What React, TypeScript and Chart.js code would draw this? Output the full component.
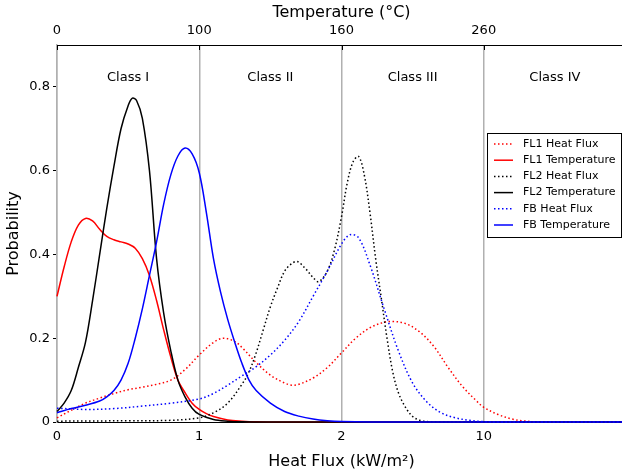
import React, { useEffect, useRef } from "react";
import { Chart, registerables } from "chart.js";

Chart.register(...registerables);

// ---- Data ----
const bottomTickLabels = ["0", "1", "2", "10"];
const topTickLabels = ["0", "100", "160", "260"];
const classLabels = ["Class I", "Class II", "Class III", "Class IV"];
const classCenters = [0.5, 1.5, 2.5, 3.5];

const fl1HfX = [0, 0.1, 0.2, 0.3, 0.4, 0.5, 0.6, 0.7, 0.8, 0.9, 1.0, 1.1, 1.17, 1.25, 1.3, 1.4, 1.5, 1.6, 1.65, 1.7, 1.8, 1.9, 2.0, 2.1, 2.2, 2.3, 2.36, 2.45, 2.55, 2.65, 2.75, 2.85, 2.95, 3.0, 3.1, 3.2, 3.3, 3.4, 4.0];
const fl1HfY = [0.01, 0.028, 0.045, 0.057, 0.068, 0.077, 0.083, 0.09, 0.1, 0.125, 0.16, 0.19, 0.2, 0.192, 0.178, 0.142, 0.112, 0.093, 0.088, 0.09, 0.105, 0.13, 0.165, 0.2, 0.225, 0.238, 0.24, 0.235, 0.215, 0.18, 0.13, 0.085, 0.05, 0.035, 0.018, 0.007, 0.002, 0, 0];

const fl1TX = [0, 0.05, 0.1, 0.15, 0.2, 0.25, 0.3, 0.35, 0.4, 0.45, 0.5, 0.55, 0.6, 0.65, 0.7, 0.75, 0.8, 0.85, 0.9, 0.95, 1.0, 1.05, 1.1, 1.2, 1.3, 1.4, 1.6, 4.0];
const fl1TY = [0.3, 0.37, 0.43, 0.47, 0.486, 0.48, 0.46, 0.443, 0.435, 0.43, 0.425, 0.415, 0.39, 0.35, 0.29, 0.22, 0.155, 0.1, 0.07, 0.045, 0.03, 0.02, 0.013, 0.005, 0.002, 0.0005, 0, 0];

const fl2HfX = [0, 0.5, 0.8, 1.0, 1.1, 1.2, 1.3, 1.35, 1.4, 1.45, 1.5, 1.55, 1.6, 1.65, 1.69, 1.75, 1.8, 1.84, 1.9, 1.95, 2.0, 2.04, 2.08, 2.12, 2.16, 2.2, 2.24, 2.28, 2.32, 2.36, 2.4, 2.45, 2.5, 2.55, 2.6, 2.7, 4.0];
const fl2HfY = [0.002, 0.003, 0.004, 0.01, 0.022, 0.045, 0.09, 0.12, 0.165, 0.22, 0.275, 0.32, 0.36, 0.378, 0.383, 0.365, 0.345, 0.335, 0.36, 0.41, 0.49, 0.57, 0.62, 0.634, 0.59, 0.5, 0.39, 0.295, 0.2, 0.12, 0.07, 0.035, 0.013, 0.004, 0.001, 0, 0];

const fl2TX = [0, 0.05, 0.1, 0.15, 0.2, 0.25, 0.3, 0.35, 0.4, 0.45, 0.5, 0.53, 0.56, 0.6, 0.65, 0.7, 0.75, 0.8, 0.85, 0.9, 0.95, 1.0, 1.1, 1.2, 1.3, 1.5, 4.0];
const fl2TY = [0.025, 0.045, 0.075, 0.13, 0.19, 0.29, 0.4, 0.51, 0.61, 0.7, 0.755, 0.773, 0.767, 0.725, 0.6, 0.39, 0.26, 0.17, 0.1, 0.06, 0.033, 0.018, 0.006, 0.002, 0.0005, 0, 0];

const fbHfX = [0, 0.2, 0.4, 0.6, 0.8, 1.0, 1.1, 1.2, 1.3, 1.4, 1.5, 1.6, 1.7, 1.8, 1.9, 2.0, 2.06, 2.12, 2.2, 2.3, 2.4, 2.5, 2.6, 2.7, 2.8, 2.9, 3.0, 3.1, 4.0];
const fbHfY = [0.033, 0.03, 0.032, 0.038, 0.045, 0.055, 0.068, 0.088, 0.11, 0.132, 0.16, 0.195, 0.24, 0.3, 0.36, 0.425, 0.447, 0.44, 0.375, 0.27, 0.17, 0.093, 0.048, 0.022, 0.01, 0.004, 0.001, 0, 0];

const fbTX = [0, 0.1, 0.2, 0.3, 0.35, 0.4, 0.45, 0.5, 0.55, 0.6, 0.65, 0.7, 0.75, 0.8, 0.85, 0.9, 0.95, 1.0, 1.05, 1.1, 1.15, 1.2, 1.25, 1.3, 1.35, 1.4, 1.5, 1.6, 1.7, 1.8, 1.9, 2.0, 2.2, 4.0];
const fbTY = [0.022, 0.032, 0.04, 0.05, 0.06, 0.075, 0.1, 0.14, 0.2, 0.27, 0.35, 0.43, 0.52, 0.59, 0.635, 0.654, 0.64, 0.595, 0.5, 0.39, 0.31, 0.245, 0.19, 0.14, 0.1, 0.075, 0.045, 0.025, 0.014, 0.007, 0.003, 0.001, 0, 0];

const seriesNames = ["FL1 Heat Flux", "FL1 Temperature", "FL2 Heat Flux", "FL2 Temperature", "FB Heat Flux", "FB Temperature"];
const seriesColors = ["#ff0000", "#ff0000", "#000000", "#000000", "#0000ff", "#0000ff"];
const seriesDotted = [true, false, true, false, true, false];
const seriesX = [fl1HfX, fl1TX, fl2HfX, fl2TX, fbHfX, fbTX];
const seriesY = [fl1HfY, fl1TY, fl2HfY, fl2TY, fbHfY, fbTY];

const FONT = "DejaVu Sans";
const DOT = [1.5, 2.5];

const overlayPlugin = {
  id: "overlay",
  afterDraw(chart: any) {
    const { ctx, chartArea, scales } = chart;
    const xs = scales.x;
    ctx.save();
    // inward ticks on top axis
    ctx.strokeStyle = "#000";
    ctx.lineWidth = 1;
    for (let i = 0; i < topTickLabels.length; i++) {
      const px = Math.round(xs.getPixelForValue(i)) + 0.5;
      ctx.beginPath();
      ctx.moveTo(px, chartArea.top);
      ctx.lineTo(px, chartArea.top + 5);
      ctx.stroke();
    }
    // class labels
    ctx.fillStyle = "#000";
    ctx.font = `13px ${FONT}`;
    ctx.textAlign = "center";
    ctx.textBaseline = "middle";
    classLabels.forEach((t, i) => {
      ctx.fillText(t, xs.getPixelForValue(classCenters[i]), chartArea.top + 33);
    });
    // legend
    const lx = 487, ly = 133, lw = 134, lh = 104;
    ctx.fillStyle = "#fff";
    ctx.fillRect(lx, ly, lw, lh);
    ctx.strokeStyle = "#000";
    ctx.lineWidth = 1;
    ctx.strokeRect(lx + 0.5, ly + 0.5, lw, lh);
    ctx.font = `11px ${FONT}`;
    ctx.textAlign = "left";
    seriesNames.forEach((name, i) => {
      const y = 144 + i * 16.2;
      ctx.strokeStyle = seriesColors[i];
      ctx.lineWidth = 1.5;
      ctx.setLineDash(seriesDotted[i] ? DOT : []);
      ctx.beginPath();
      ctx.moveTo(494, y);
      ctx.lineTo(513, y);
      ctx.stroke();
      ctx.setLineDash([]);
      ctx.fillStyle = "#000";
      ctx.fillText(name, 523, y);
    });
    ctx.restore();
  },
};

export default function App() {
  const ref = useRef<HTMLCanvasElement>(null);
  useEffect(() => {
    if (!ref.current) return;
    Chart.defaults.font.family = FONT;
    Chart.defaults.color = "#000";
    const datasets = seriesNames.map((name, i) => ({
      label: name,
      data: seriesX[i].map((x, j) => ({ x, y: seriesY[i][j] })),
      borderColor: seriesColors[i],
      backgroundColor: seriesColors[i],
      borderWidth: 1.5,
      borderDash: seriesDotted[i] ? DOT : [],
      borderCapStyle: "butt" as const,
      pointRadius: 0,
      tension: 0.35,
      fill: false,
      order: 5 - i,
      clip: 3,
    }));
    const chart = new Chart(ref.current, {
      type: "line",
      data: { datasets },
      options: {
        responsive: false,
        animation: false,
        events: [],
        layout: { padding: { left: 0, right: 4, top: 0, bottom: 0 } },
        plugins: { legend: { display: false }, tooltip: { enabled: false } },
        scales: {
          x: {
            type: "linear",
            position: "bottom",
            min: 0,
            max: 4,
            afterBuildTicks: (s: any) => {
              s.ticks = s.ticks.filter((t: any) => t.value <= 3 + 1e-9);
            },
            afterFit: (s: any) => {
              s.height = 49;
            },
            ticks: {
              stepSize: 1,
              padding: 7,
              font: { size: 13 },
              color: "#000",
              callback: (v: any) => bottomTickLabels[Math.round(v)] ?? "",
              maxRotation: 0,
            },
            grid: {
              drawTicks: false,
              color: "#b0b0b0",
              lineWidth: 1.5,
            },
            border: { display: true, color: "#000", width: 1 },
            title: {
              display: true,
              text: "Heat Flux (kW/m²)",
              font: { size: 16 },
              color: "#000",
              padding: { top: 0, bottom: 0 },
            },
          },
          x2: {
            type: "linear",
            position: "top",
            min: 0,
            max: 4,
            afterBuildTicks: (s: any) => {
              s.ticks = s.ticks.filter((t: any) => t.value <= 3 + 1e-9);
            },
            afterFit: (s: any) => {
              s.height = 45;
            },
            ticks: {
              stepSize: 1,
              padding: 7,
              font: { size: 13 },
              color: "#000",
              callback: (v: any) => topTickLabels[Math.round(v)] ?? "",
              maxRotation: 0,
            },
            grid: { display: false, drawTicks: false },
            border: { display: true, color: "#000", width: 1 },
            title: {
              display: true,
              text: "Temperature (°C)",
              font: { size: 16 },
              color: "#000",
              padding: { top: 3, bottom: 0 },
            },
          },
          y: {
            type: "linear",
            min: 0,
            max: 0.9,
            afterBuildTicks: (s: any) => {
              s.ticks = s.ticks.filter((t: any) => t.value <= 0.8 + 1e-9);
            },
            afterFit: (s: any) => {
              s.width = 57;
            },
            ticks: {
              stepSize: 0.2,
              padding: 3,
              font: { size: 13 },
              color: "#000",
              callback: (v: any) => (Math.abs(v) < 1e-9 ? "0" : Number(v).toFixed(1)),
            },
            grid: {
              drawOnChartArea: false,
              drawTicks: true,
              tickLength: 4,
              color: "#000",
              lineWidth: 1,
            },
            border: { display: true, color: "#b0b0b0", width: 1.5 },
            title: {
              display: true,
              text: "Probability",
              font: { size: 16 },
              color: "#000",
              padding: { top: 4, bottom: 0 },
            },
          },
        },
      },
      plugins: [overlayPlugin],
    });
    return () => chart.destroy();
  }, []);

  return (
    <div
      style={{
        position: "fixed",
        left: 0,
        top: 0,
        width: 622,
        height: 471,
        overflow: "hidden",
        background: "#fff",
      }}
    >
      <canvas ref={ref} width={630} height={471} style={{ display: "block" }} />
    </div>
  );
}
